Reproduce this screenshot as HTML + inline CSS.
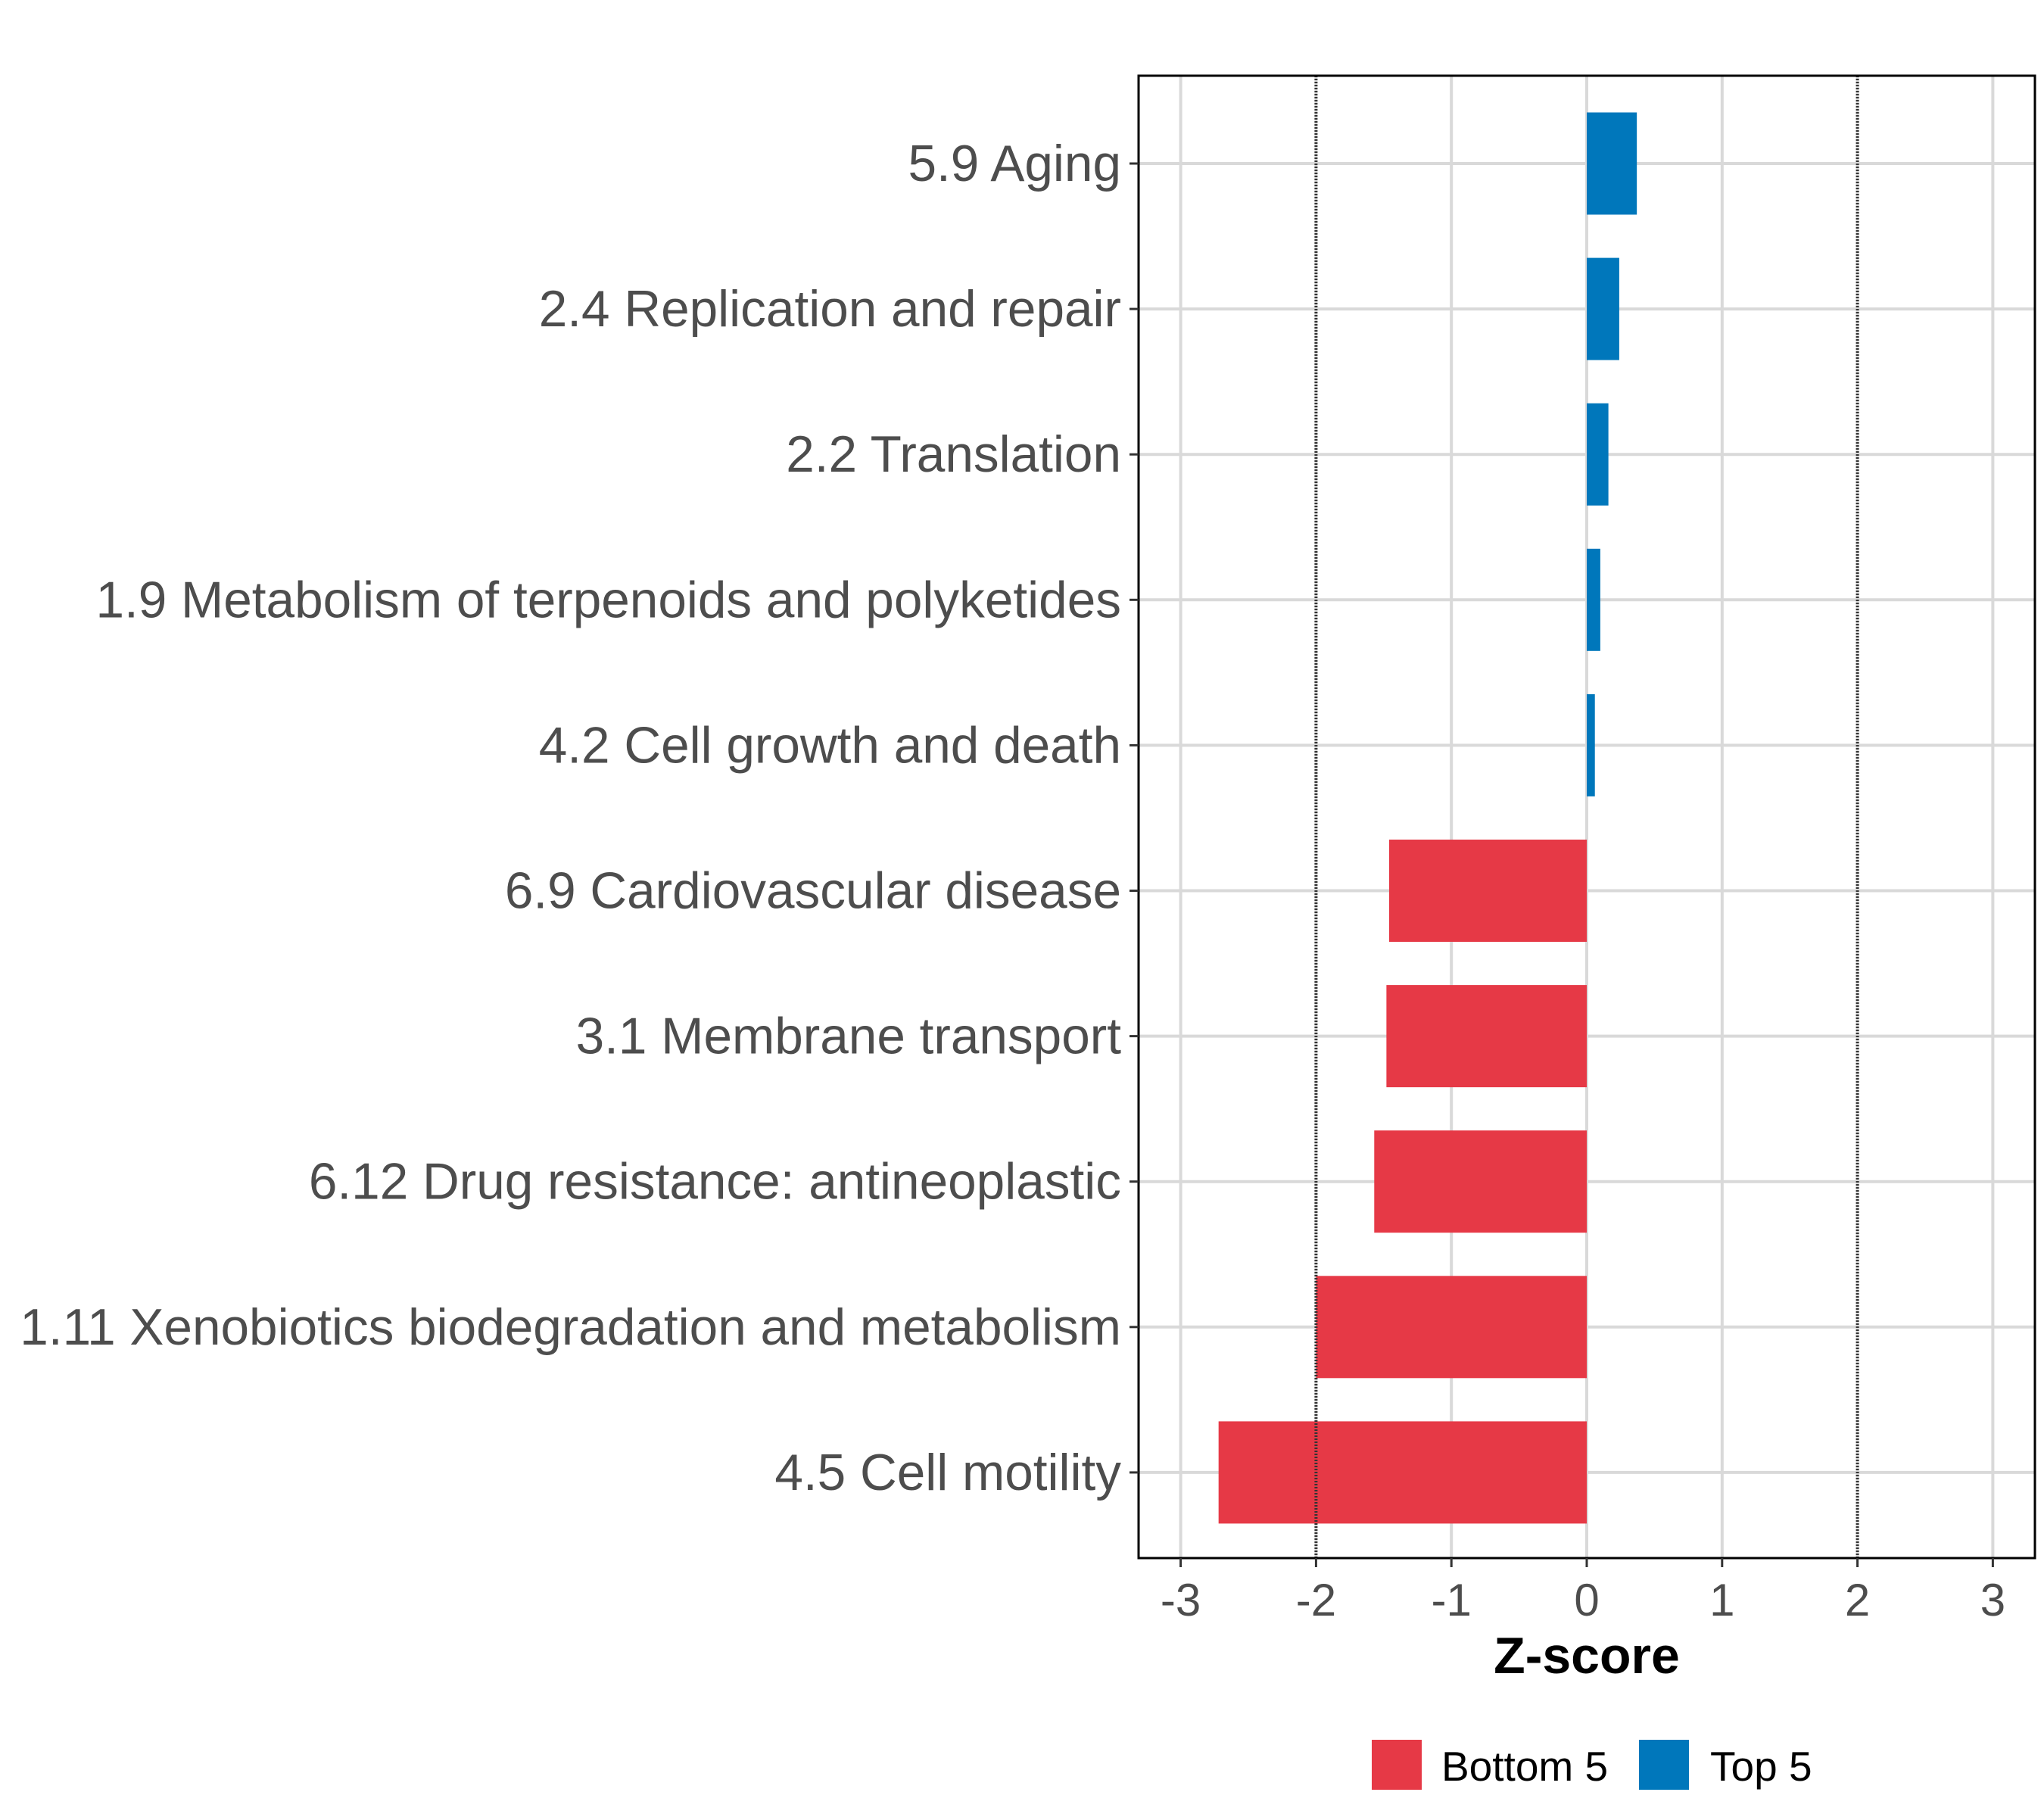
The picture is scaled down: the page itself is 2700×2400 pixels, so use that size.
<!DOCTYPE html>
<html><head><meta charset="utf-8"><style>
html,body{margin:0;padding:0;background:#fff;}
svg{display:block;font-family:"Liberation Sans",Arial,sans-serif;}
</style></head><body>
<svg id="chart" width="2700" height="2400" viewBox="0 0 2700 2400" xmlns="http://www.w3.org/2000/svg">
<rect x="0" y="0" width="2700" height="2400" fill="#fff"/>
<g id="grid"></g>
<g id="bars"></g>
<g id="refs"></g>
<rect x="1504" y="100" width="1184" height="1958" fill="none" stroke="#000" stroke-width="3"/>
<g id="yaxis"></g>
<g id="xaxis"></g>
<text x="2096" y="2210" text-anchor="middle" font-size="68" font-weight="bold" fill="#000">Z-score</text>
<g>
<rect x="1812" y="2298" width="66" height="66" fill="#E63946"/>
<text x="1904" y="2352" font-size="55" fill="#000">Bottom 5</text>
<rect x="2165" y="2298" width="66" height="66" fill="#0077BB"/>
<text x="2259" y="2352" font-size="55" fill="#000">Top 5</text>
</g>
</svg>
<script>
const categories=["5.9 Aging","2.4 Replication and repair","2.2 Translation","1.9 Metabolism of terpenoids and polyketides","4.2 Cell growth and death","6.9 Cardiovascular disease","3.1 Membrane transport","6.12 Drug resistance: antineoplastic","1.11 Xenobiotics biodegradation and metabolism","4.5 Cell motility"];
const zscores=[0.37,0.24,0.16,0.10,0.06,-1.46,-1.48,-1.57,-2.0,-2.72];
const groups=["Top 5","Top 5","Top 5","Top 5","Top 5","Bottom 5","Bottom 5","Bottom 5","Bottom 5","Bottom 5"];
const xTicks=[-3,-2,-1,0,1,2,3];
const refLines=[-2,2];
const NS="http://www.w3.org/2000/svg";
const x=v=>2096+v*178.8;
const y=i=>216+i*192.1;
function mk(tag,attrs,parent){const e=document.createElementNS(NS,tag);for(const k in attrs)e.setAttribute(k,attrs[k]);parent.appendChild(e);return e;}
const grid=document.getElementById('grid'),bars=document.getElementById('bars'),refs=document.getElementById('refs'),ya=document.getElementById('yaxis'),xa=document.getElementById('xaxis');
xTicks.forEach(t=>{
 let l=mk('line',{x1:x(t),x2:x(t),y1:100,y2:2058,stroke:'#d9d9d9','stroke-width':4},grid);
 
 
 let tk=mk('line',{x1:x(t),x2:x(t),y1:2058,y2:2070,stroke:'#333','stroke-width':3},xa);
 
 
 let tx=mk('text',{x:x(t),y:2134,'text-anchor':'middle','font-size':60,fill:'#4d4d4d'},xa);
 tx.textContent=String(t);
 
 
});
categories.forEach((c,i)=>{
 let g=mk('line',{x1:1504,x2:2688,y1:y(i),y2:y(i),stroke:'#d9d9d9','stroke-width':4},grid);
 
 
 const v=zscores[i];
 let b=mk('rect',{x:Math.min(x(0),x(v)),y:y(i)-67.5,width:Math.abs(x(v)-x(0)),height:135,fill:groups[i]==="Top 5"?'#0077BB':'#E63946'},bars);
 
 
 let tk=mk('line',{x1:1492,x2:1504,y1:y(i),y2:y(i),stroke:'#333','stroke-width':3},ya);
 
 
 let tx=mk('text',{x:1481,y:y(i)+23,'text-anchor':'end','font-size':67.5,fill:'#4d4d4d'},ya);
 tx.textContent=c;
 
 
});
refLines.forEach(r=>{
 let l=mk('line',{x1:x(r),x2:x(r),y1:100,y2:2058,stroke:'#333','stroke-width':4,'stroke-dasharray':'2 2'},refs);
 
 
});
</script>
</body></html>
